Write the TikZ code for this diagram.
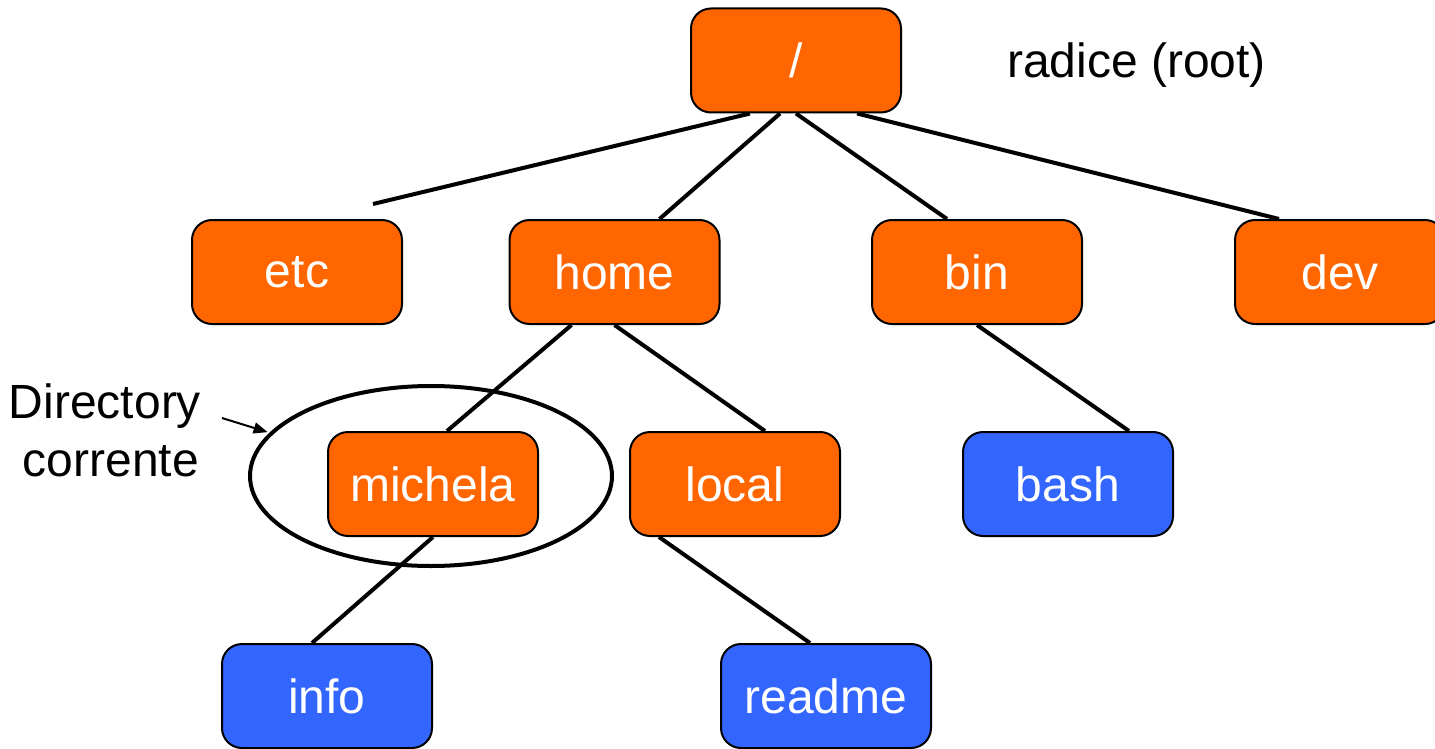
\documentclass[tikz,border=0pt]{standalone}
\usepackage{fontspec}
\setmainfont{Liberation Sans}
\usetikzlibrary{arrows.meta,shapes.geometric}
\definecolor{dirorange}{HTML}{FF6600}
\definecolor{fileblue}{HTML}{3366FF}
\begin{document}
\begin{tikzpicture}[x=1pt,y=-1pt,
  box/.style={draw=black,line width=2pt,rounded corners=20pt,minimum width=210pt,minimum height=104pt,inner sep=0pt,text=white,font=\fontsize{48}{56}\selectfont},
  dirbox/.style={box,fill=dirorange},
  filebox/.style={box,fill=fileblue},
  edge/.style={line width=4pt},
  lbl/.style={font=\fontsize{48}{58}\selectfont,align=center,inner sep=0pt}]
\useasboundingbox (0,0) rectangle (1435,749);
\begin{scope}
\clip (0,0) rectangle (1435,749);
\node[dirbox] (root) at (796,60.5) {/};
\node[dirbox] (etc) at (297,272) {etc};
\node[dirbox] (home) at (614.5,272) {home};
\node[dirbox] (bin) at (977,272) {bin};
\node[dirbox] (dev) at (1340,272) {dev};
\node[dirbox] (michela) at (433,484) {michela};
\node[dirbox] (local) at (735,484) {local};
\node[filebox] (bash) at (1068,484) {bash};
\node[filebox] (info) at (327,696) {info};
\node[filebox] (readme) at (826,696) {readme};
\end{scope}
\coordinate (etcend) at (373,204);
\draw[edge] ([xshift=-46pt]root.south) -- (etcend);
\draw[edge] ([xshift=-16pt]root.south) -- ([xshift=45pt]home.north);
\draw[edge] ([xshift=0pt]root.south) -- ([xshift=-30pt]bin.north);
\draw[edge] ([xshift=61pt]root.south) -- ([xshift=-61pt]dev.north);
\draw[edge] ([xshift=-43pt]home.south) -- ([xshift=14pt]michela.north);
\draw[edge] (home.south) -- ([xshift=30pt]local.north);
\draw[edge] (bin.south) -- ([xshift=61pt]bash.north);
\draw[edge] (michela.south) -- ([xshift=-15pt]info.north);
\draw[edge] ([xshift=-76pt]local.south) -- ([xshift=-16pt]readme.north);
\node[draw=black,line width=4pt,ellipse,minimum width=362pt,minimum height=180pt,inner sep=0pt] (cur) at (431,476) {};
\node[lbl] (dirlbl) at (105,430) {Directory\\\hspace*{12pt}corrente};
\node[lbl,anchor=west] (rootlbl) at (1007,65) {radice (root)};
\coordinate (arrstart) at (222,418);
\draw[line width=2pt,shorten >=2pt,-{Triangle[length=14pt,width=11pt]}] (arrstart) -- (cur.165);
\end{tikzpicture}
\end{document}
